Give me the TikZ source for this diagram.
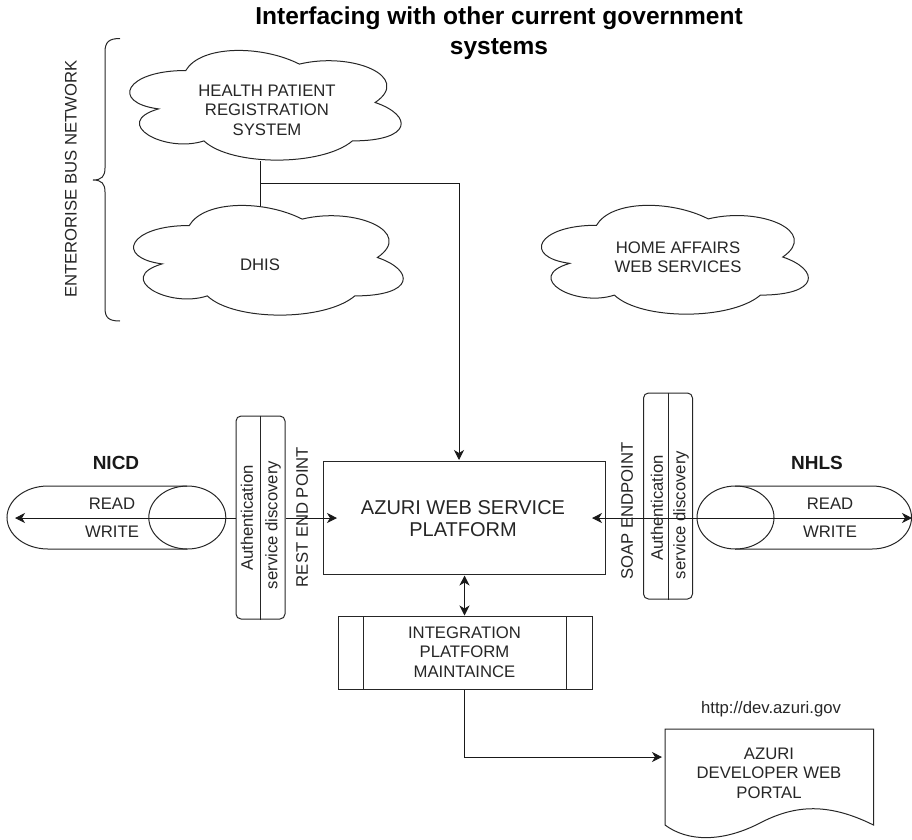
\documentclass[tikz,border=0pt]{standalone}
\usepackage{fontspec}
\setmainfont{Liberation Sans}
\usetikzlibrary{arrows.meta,shapes.geometric}
\newcommand{\txtfont}{\fontsize{16.7}{19.5}\selectfont}
\newcommand{\cloudpath}[5]{%
  \begin{scope}[shift={(#2,#3)},x=#4pt,y=-#5pt]
    \draw[shapeline] (.25,.25) .. controls (.05,.25) and (0,.5) .. (.16,.55)
      .. controls (0,.66) and (.18,.9) .. (.31,.8)
      .. controls (.4,1) and (.7,1) .. (.8,.8)
      .. controls (1,.8) and (1,.6) .. (.875,.5)
      .. controls (1,.3) and (.8,.1) .. (.625,.2)
      .. controls (.5,.05) and (.3,.05) .. (.25,.25) -- cycle;
    \coordinate (#1 bottom) at (.5,.95);
  \end{scope}}
\tikzset{
  shapeline/.style={draw=black!85,line width=1pt},
  conn/.style={draw=black!90,line width=1pt},
  tip/.style={{Stealth[length=10pt,width=10pt,inset=3pt]}},
  arrowone/.style={conn,-{Stealth[length=10pt,width=10pt,inset=3pt]}},
  arrowtwo/.style={conn,{Stealth[length=10pt,width=10pt,inset=3pt]}-{Stealth[length=10pt,width=10pt,inset=3pt]}},
  label/.style={font=\txtfont,align=center,text=black!85,inner sep=0pt},
  heading/.style={font=\fontsize{19}{23}\selectfont\bfseries,text=black!90,inner sep=0pt},
  boxnode/.style={shapeline,rectangle,inner sep=0pt},
  capsule/.style={shapeline,ellipse,minimum width=77pt,minimum height=63pt,inner sep=0pt},
  authbox/.style={shapeline,rectangle,rounded corners=5pt,minimum width=49pt,minimum height=203pt,inner sep=0pt},
}
\begin{document}
\begin{tikzpicture}[x=1pt,y=-1pt]
\useasboundingbox (0,0) rectangle (912,839);

% title
\node[font=\fontsize{24.5}{30}\selectfont\bfseries,align=center,text=black,inner sep=0pt] (title) at (499,33) {Interfacing with other current government\\systems};

% clouds
\cloudpath{health}{110}{38.5}{303}{128}
\cloudpath{dhis}{114}{193.5}{301}{128}
\cloudpath{home}{522}{193.5}{298}{127}
\node[label] (healthtxt) at (267,110) {HEALTH PATIENT\\REGISTRATION\\SYSTEM};
\node[label] (dhistxt) at (260,265) {DHIS};
\node[label] (hometxt) at (678,257) {HOME AFFAIRS\\WEB SERVICES};

% brace
\coordinate (bracetop) at (120,38.5);
\coordinate (bracebot) at (120,321);
\coordinate (bracetip) at (93,180);
\draw[shapeline] (bracetop) .. controls (109,38.5) and (105,42) .. (105,52) -- (105,168)
  .. controls (105,176) and (102,180) .. (bracetip)
  .. controls (102,180) and (105,184) .. (105,192) -- (105,308)
  .. controls (105,318) and (109,321) .. (bracebot);
\node[label,rotate=90] (bus) at (71,179) {ENTERORISE BUS NETWORK};

% platform
\node[boxnode,minimum width=282pt,minimum height=113pt] (platform) at (464.5,518) {};
\node[label,font=\fontsize{20}{22}\selectfont] (platformtxt) at (463,519) {AZURI WEB SERVICE\\PLATFORM};

% integration
\node[boxnode,minimum width=254pt,minimum height=73.5pt] (integ) at (465,653.2) {};
\draw[shapeline] (363.5,616.5) -- (363.5,690) (566,616.5) -- (566,690);
\node[label] (integtxt) at (464.5,652) {INTEGRATION\\PLATFORM\\MAINTAINCE};

% document
\draw[shapeline] (665,729) -- (873.5,729) -- (873.5,825)
  .. controls (825,801) and (792,806) .. (758,824)
  .. controls (722,842) and (688,842) .. (665,825) -- cycle;
\node[label] (doctxt) at (769,773) {AZURI\\DEVELOPER WEB\\PORTAL};
\node[label] (url) at (771,709) {http://dev.azuri.gov};
\coordinate (docin) at (662,757);

% NICD
\draw[shapeline] (187,486) -- (48,486) arc[start angle=90,end angle=270,x radius=41pt,y radius=31.5pt] -- (187,549);
\node[capsule] (nicdcap) at (187.3,517.5) {};
\node[heading] (nicd) at (116,463) {NICD};
\node[label] (nicdread) at (112,504) {READ};
\node[label] (nicdwrite) at (112,532) {WRITE};

% NHLS
\draw[shapeline] (735,486) -- (872,486) arc[start angle=90,end angle=-90,x radius=39.5pt,y radius=31.5pt] -- (735,549);
\node[capsule] (nhlscap) at (735.5,517.5) {};
\node[heading] (nhls) at (817,463) {NHLS};
\node[label] (nhlsread) at (830,504) {READ};
\node[label] (nhlswrite) at (830,532) {WRITE};

% authentication boxes
\node[authbox] (authl) at (260.5,517.5) {};
\draw[shapeline] (authl.north) -- (authl.south);
\node[label,rotate=90] (authltxt) at (247,518) {Authentication};
\node[label,rotate=90] (authlsrv) at (273,525) {service discovery};
\node[label,rotate=90] (rest) at (302,517) {REST END POINT};

\node[authbox,minimum height=206pt] (authr) at (668,496) {};
\draw[shapeline] (authr.north) -- (authr.south);
\node[label,rotate=90] (authrtxt) at (657,508) {Authentication};
\node[label,rotate=90] (authrsrv) at (681,515) {service discovery};
\node[label,rotate=90] (soap) at (627,511) {SOAP ENDPOINT};

% connectors
\coordinate (nicdend) at (15,518);
\coordinate (restin) at (337,518);
\coordinate (soapin) at (592,518);
\coordinate (nhlsend) at (912,518);
\draw[arrowone] (nicdcap.east |- restin) -- (nicdend);
\draw[conn] (nicdcap.east |- restin) -- (authl.west |- restin);
\draw[arrowone] (authl.east |- restin) -- (restin);
\draw[arrowtwo] (soapin) -- (nhlsend);

\coordinate (branch) at (260,183.5);
\coordinate (bend) at (459,183.5);
\coordinate (dhistop) at (260,206);
\coordinate (healthbot) at (260,161);
\coordinate (platformtop) at (459,460);
\draw[conn] (healthbot) -- (dhistop);
\draw[arrowone] (branch) -- (bend) -- (platformtop);

\coordinate (updown1) at (464.5,575.5);
\coordinate (updown2) at (464.5,615.5);
\draw[arrowtwo] (updown1) -- (updown2);

\coordinate (integbot) at (464,690);
\coordinate (elbow) at (464,757);
\draw[arrowone] (integbot) -- (elbow) -- (docin);
\end{tikzpicture}
\end{document}
